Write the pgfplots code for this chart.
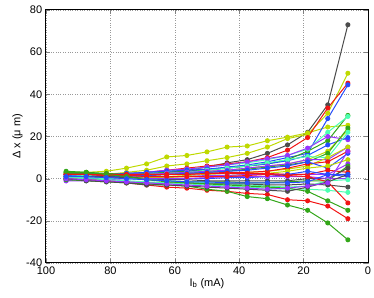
\documentclass[border=0pt]{standalone}
\usepackage{pgfplots}
\pgfplotsset{compat=1.18}
\usepackage{fontspec}
\setmainfont{Liberation Sans}
\definecolor{mblack}{rgb}{0.3,0.3,0.3}
\definecolor{mred}{rgb}{0.95,0.08,0.08}
\definecolor{mblue}{rgb}{0.15,0.3,1}
\definecolor{mgreen}{rgb}{0.2,0.65,0.1}
\definecolor{mygreen}{rgb}{0.75,0.85,0}
\definecolor{mpurple}{rgb}{0.6,0.2,1}
\definecolor{mcyan}{rgb}{0.3,1,0.7}
\begin{document}
\begin{tikzpicture}
\fontsize{11}{13}\selectfont
\begin{axis}[
  scale only axis, width=322pt, height=253pt,
  x dir=reverse, xmin=0, xmax=100, ymin=-40, ymax=80,
  xtick={0,20,...,100}, ytick={-40,-20,...,80},
  /pgf/number format/assume math mode=true,
  tick label style={font=\fontsize{11}{13}\selectfont},
  label style={font=\fontsize{11}{13}\selectfont},
  grid=major, grid style={dotted, gray!80},
  tick align=inside, major tick length=4pt,
  axis line style={line width=1pt},
  xlabel={I\textsubscript{b} (mA)}, ylabel={Δ x (μ m)},
  xlabel style={yshift=4pt}, ylabel style={yshift=-4pt},
  every axis plot/.append style={line width=1pt, mark=*, mark size=2pt},
]
\addplot[mblack] coordinates {(93.75,1)(87.5,1)(81.25,1)(75,1.5)(68.75,2)(62.5,3)(56.25,4)(50,5.5)(43.75,7.5)(37.5,9)(31.25,12)(25,16)(18.75,22)(12.5,35)(6.25,73)};
\addplot[mygreen] coordinates {(93.75,3)(87.5,3)(81.25,3.5)(75,5)(68.75,7)(62.5,10.3)(56.25,11)(50,12.7)(43.75,15)(37.5,15.5)(31.25,18)(25,19.7)(18.75,21.7)(12.5,24.5)(6.25,25.3)};
\addplot[mygreen] coordinates {(93.75,0.5)(87.5,1)(81.25,2)(75,3)(68.75,4)(62.5,6)(56.25,7)(50,8.5)(43.75,10)(37.5,12)(31.25,15)(25,19)(18.75,21)(12.5,31)(6.25,50)};
\addplot[mred] coordinates {(93.75,2)(87.5,2)(81.25,2)(75,2.5)(68.75,3)(62.5,4)(56.25,5)(50,6)(43.75,7)(37.5,8)(31.25,10)(25,13.5)(18.75,19.5)(12.5,33.5)(6.25,45.3)};
\addplot[mblue] coordinates {(93.75,1.5)(87.5,1.5)(81.25,1.5)(75,2)(68.75,2.5)(62.5,3)(56.25,3.5)(50,4.5)(43.75,5.5)(37.5,6.5)(31.25,8)(25,10)(18.75,12)(12.5,28.5)(6.25,44.5)};
\addplot[mgreen] coordinates {(93.75,2.5)(87.5,2.5)(81.25,2)(75,2)(68.75,2.5)(62.5,3)(56.25,3.5)(50,4)(43.75,5)(37.5,6)(31.25,7)(25,9)(18.75,13)(12.5,18)(6.25,30)};
\addplot[mcyan] coordinates {(93.75,1)(87.5,1.5)(81.25,2)(75,2.5)(68.75,3)(62.5,3.5)(56.25,4.5)(50,5.5)(43.75,6.5)(37.5,7.5)(31.25,9)(25,11)(18.75,14)(12.5,22)(6.25,29.5)};
\addplot[mpurple] coordinates {(93.75,-1)(87.5,0)(81.25,1)(75,2)(68.75,3)(62.5,4)(56.25,4.5)(50,5.5)(43.75,6.5)(37.5,8)(31.25,9.5)(25,11)(18.75,14.5)(12.5,20)(6.25,18.5)};
\addplot[mblue] coordinates {(93.75,2)(87.5,2)(81.25,2)(75,2.5)(68.75,3)(62.5,3.5)(56.25,4)(50,4.5)(43.75,5)(37.5,6)(31.25,7)(25,8.5)(18.75,11)(12.5,16)(6.25,19.5)};
\addplot[mygreen] coordinates {(93.75,0)(87.5,0.5)(81.25,1)(75,1.5)(68.75,2)(62.5,2.5)(56.25,3)(50,3.5)(43.75,4)(37.5,5)(31.25,6)(25,7)(18.75,9)(12.5,13)(6.25,23)};
\addplot[mgreen] coordinates {(93.75,3)(87.5,3)(81.25,2.5)(75,2)(68.75,1.5)(62.5,2)(56.25,2.5)(50,3)(43.75,3.5)(37.5,4.5)(31.25,5.5)(25,6.5)(18.75,8)(12.5,12)(6.25,24)};
\addplot[mcyan] coordinates {(93.75,0)(87.5,0.5)(81.25,1)(75,1.5)(68.75,2)(62.5,2.5)(56.25,3)(50,4)(43.75,5)(37.5,6)(31.25,7.5)(25,9)(18.75,10.5)(12.5,10)(6.25,22)};
\addplot[mpurple] coordinates {(93.75,0)(87.5,0.5)(81.25,1)(75,1.5)(68.75,2)(62.5,2.5)(56.25,3)(50,3.5)(43.75,4)(37.5,5)(31.25,6)(25,7)(18.75,9)(12.5,9)(6.25,15)};
\addplot[mygreen] coordinates {(93.75,0)(87.5,0)(81.25,0)(75,0.5)(68.75,1)(62.5,1)(56.25,1.5)(50,2)(43.75,2.5)(37.5,3)(31.25,3.5)(25,4.5)(18.75,6)(12.5,10)(6.25,15)};
\addplot[mred] coordinates {(93.75,2)(87.5,2)(81.25,1.5)(75,1.5)(68.75,1.5)(62.5,2)(56.25,2)(50,2.5)(43.75,3)(37.5,3)(31.25,3.5)(25,5)(18.75,7)(12.5,8)(6.25,13)};
\addplot[mblue] coordinates {(93.75,1)(87.5,1)(81.25,1)(75,1)(68.75,1.5)(62.5,2)(56.25,2.5)(50,3)(43.75,3.5)(37.5,4)(31.25,5)(25,6)(18.75,8)(12.5,5)(6.25,12)};
\addplot[mygreen] coordinates {(93.75,0)(87.5,0)(81.25,0)(75,0)(68.75,0.5)(62.5,0.5)(56.25,1)(50,1)(43.75,1.5)(37.5,2)(31.25,2.5)(25,3.5)(18.75,5)(12.5,6)(6.25,9)};
\addplot[mpurple] coordinates {(93.75,0)(87.5,0)(81.25,0.5)(75,0.5)(68.75,1)(62.5,1)(56.25,1)(50,1.5)(43.75,1.5)(37.5,2)(31.25,2)(25,2)(18.75,2)(12.5,2)(6.25,7)};
\addplot[mgreen] coordinates {(93.75,3)(87.5,3)(81.25,2)(75,1)(68.75,0)(62.5,-1)(56.25,-1.5)(50,-1.5)(43.75,-1.5)(37.5,-2)(31.25,-2)(25,-1.5)(18.75,-1)(12.5,-1)(6.25,6)};
\addplot[mred] coordinates {(93.75,2)(87.5,2)(81.25,2)(75,2)(68.75,2)(62.5,2)(56.25,2)(50,2.5)(43.75,2.5)(37.5,2.5)(31.25,2.5)(25,2)(18.75,2)(12.5,4)(6.25,3)};
\addplot[mblack] coordinates {(93.75,1)(87.5,1)(81.25,1)(75,0.5)(68.75,0)(62.5,-0.5)(56.25,-0.5)(50,-1)(43.75,-1)(37.5,-1)(31.25,-1)(25,-1)(18.75,0)(12.5,0)(6.25,5)};
\addplot[mblue] coordinates {(93.75,0)(87.5,0)(81.25,0)(75,0)(68.75,0)(62.5,0)(56.25,0)(50,0)(43.75,0.5)(37.5,0.5)(31.25,1)(25,2)(18.75,3.5)(12.5,2)(6.25,1)};
\addplot[mpurple] coordinates {(93.75,-1)(87.5,-1)(81.25,-0.5)(75,0)(68.75,0)(62.5,0)(56.25,0)(50,0.5)(43.75,1)(37.5,1)(31.25,1)(25,1)(18.75,1)(12.5,0)(6.25,0)};
\addplot[mcyan] coordinates {(93.75,0.5)(87.5,0.5)(81.25,0)(75,0)(68.75,-0.5)(62.5,-1)(56.25,-1.5)(50,-2)(43.75,-2.5)(37.5,-3)(31.25,-3.5)(25,-4)(18.75,-3.5)(12.5,-1)(6.25,-0.5)};
\addplot[mblack] coordinates {(93.75,0)(87.5,-0.5)(81.25,-1)(75,-1.5)(68.75,-2)(62.5,-2)(56.25,-2)(50,-2.5)(43.75,-2.5)(37.5,-2.5)(31.25,-3)(25,-3)(18.75,-2.5)(12.5,-3)(6.25,-4)};
\addplot[mcyan] coordinates {(93.75,0)(87.5,0)(81.25,-0.5)(75,-1)(68.75,-1.5)(62.5,-2)(56.25,-2.5)(50,-3)(43.75,-3.5)(37.5,-4)(31.25,-4.5)(25,-5)(18.75,-5)(12.5,-5.5)(6.25,-6.5)};
\addplot[mred] coordinates {(93.75,2)(87.5,2)(81.25,1.5)(75,1.5)(68.75,1)(62.5,1)(56.25,1)(50,1)(43.75,1)(37.5,1.5)(31.25,2)(25,1.5)(18.75,1)(12.5,-1.5)(6.25,-11.5)};
\addplot[mgreen] coordinates {(93.75,3.5)(87.5,3)(81.25,2)(75,1)(68.75,-0.5)(62.5,-1.5)(56.25,-2)(50,-2.5)(43.75,-3)(37.5,-3.5)(31.25,-4)(25,-4.5)(18.75,-6)(12.5,-10.5)(6.25,-15)};
\addplot[mred] coordinates {(93.75,0)(87.5,-0.5)(81.25,-1)(75,-2)(68.75,-3)(62.5,-4)(56.25,-4.5)(50,-5.5)(43.75,-6)(37.5,-7)(31.25,-7.5)(25,-10)(18.75,-10.5)(12.5,-13)(6.25,-19)};
\addplot[mgreen] coordinates {(93.75,-0.5)(87.5,-1)(81.25,-1.5)(75,-2)(68.75,-2.5)(62.5,-3)(56.25,-3.5)(50,-5)(43.75,-6)(37.5,-8.5)(31.25,-9.5)(25,-12.5)(18.75,-15)(12.5,-21)(6.25,-29)};
\addplot[mblack] coordinates {(93.75,0)(87.5,-1)(81.25,-1.5)(75,-2)(68.75,-3)(62.5,-3)(56.25,-3.5)(50,-4)(43.75,-4.5)(37.5,-5)(31.25,-5.5)(25,-6)(18.75,-4)(12.5,-1.5)(6.25,2)};
\addplot[mpurple] coordinates {(93.75,0)(87.5,-0.5)(81.25,-1)(75,-1.5)(68.75,-2)(62.5,-2.5)(56.25,-3)(50,-3.5)(43.75,-4)(37.5,-4.5)(31.25,-5)(25,-4.5)(18.75,-3.5)(12.5,-2)(6.25,13)};
\addplot[mblue] coordinates {(93.75,1)(87.5,1)(81.25,0.5)(75,0)(68.75,-0.5)(62.5,-1)(56.25,-1.5)(50,-1.5)(43.75,-2)(37.5,-2)(31.25,-2)(25,-2)(18.75,-1.5)(12.5,2)(6.25,2)};
\end{axis}
\pgfresetboundingbox
\path ([shift={(-46pt,-35pt)}]current axis.south west) rectangle ([shift={(6pt,10pt)}]current axis.north east);
\end{tikzpicture}
\end{document}
